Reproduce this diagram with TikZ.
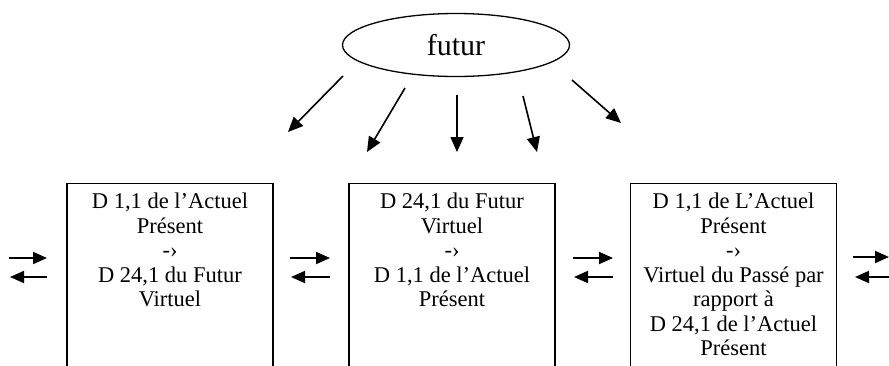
\documentclass[tikz,border=0pt]{standalone}
\usepackage{fontspec}
\setmainfont{Liberation Serif}
\usetikzlibrary{arrows.meta,shapes.geometric}
\begin{document}
\begin{tikzpicture}[x=1pt,y=-1pt,
  box/.style={draw,line width=1.4pt,minimum width=206pt,minimum height=260pt,anchor=north,inner sep=0pt},
  boxtext/.style={anchor=north,align=center,font=\fontsize{22.5}{24.5}\selectfont,inner sep=0pt},
  arr/.style={line width=1.6pt,-{Triangle[length=15pt,width=13pt]}},
  parr/.style={line width=1.9pt,-{Triangle[length=14pt,width=12pt]}}]
\useasboundingbox (0,0) rectangle (889,365);
\clip (0,0) rectangle (889,365);
\node[ellipse,draw,line width=1.3pt,minimum width=227pt,minimum height=63pt,font=\fontsize{30}{32}\selectfont] (futur) at (456,45) {futur};
\node[box] (b1) at (170,183) {};
\node[box] (b2) at (452,183) {};
\node[box] (b3) at (733.5,183) {};
\node[boxtext] (t1) at ([yshift=-10pt]b1.north) {D 1,1 de l’Actuel\\Présent\\-›\\D 24,1 du Futur\\Virtuel};
\node[boxtext] (t2) at ([yshift=-10pt]b2.north) {D 24,1 du Futur\\Virtuel\\-›\\D 1,1 de l’Actuel\\Présent};
\node[boxtext] (t3) at ([yshift=-10pt]b3.north) {D 1,1 de L’Actuel\\Présent\\-›\\Virtuel du Passé par\\rapport à\\D 24,1 de l’Actuel\\Présent};
% arrows from futur
\coordinate (s1) at (343,76); \coordinate (e1) at (288,132);
\coordinate (s2) at (405,88); \coordinate (e2) at (367,152);
\coordinate (s3) at (457,95); \coordinate (e3) at (457,152);
\coordinate (s4) at (523,96); \coordinate (e4) at (537,152);
\coordinate (s5) at (572,80); \coordinate (e5) at (621,123);
\foreach \i in {1,...,5} \draw[arr] (s\i) -- (e\i);
% pairs of arrows
\coordinate (pl1) at (9,258); \coordinate (pr1) at (47,258);
\coordinate (ql1) at (10,277); \coordinate (qr1) at (47,277);
\coordinate (pl2) at (290,258); \coordinate (pr2) at (330,258);
\coordinate (ql2) at (291,277); \coordinate (qr2) at (330,277);
\coordinate (pl3) at (573,258); \coordinate (pr3) at (613,258);
\coordinate (ql3) at (574,277); \coordinate (qr3) at (613,277);
\coordinate (pl4) at (853,257); \coordinate (pr4) at (889,257);
\coordinate (ql4) at (855,277); \coordinate (qr4) at (895,277);
\foreach \i in {1,...,4} {
  \draw[parr] (pl\i) -- (pr\i);
  \draw[parr] (qr\i) -- (ql\i);
}
\end{tikzpicture}
\end{document}
